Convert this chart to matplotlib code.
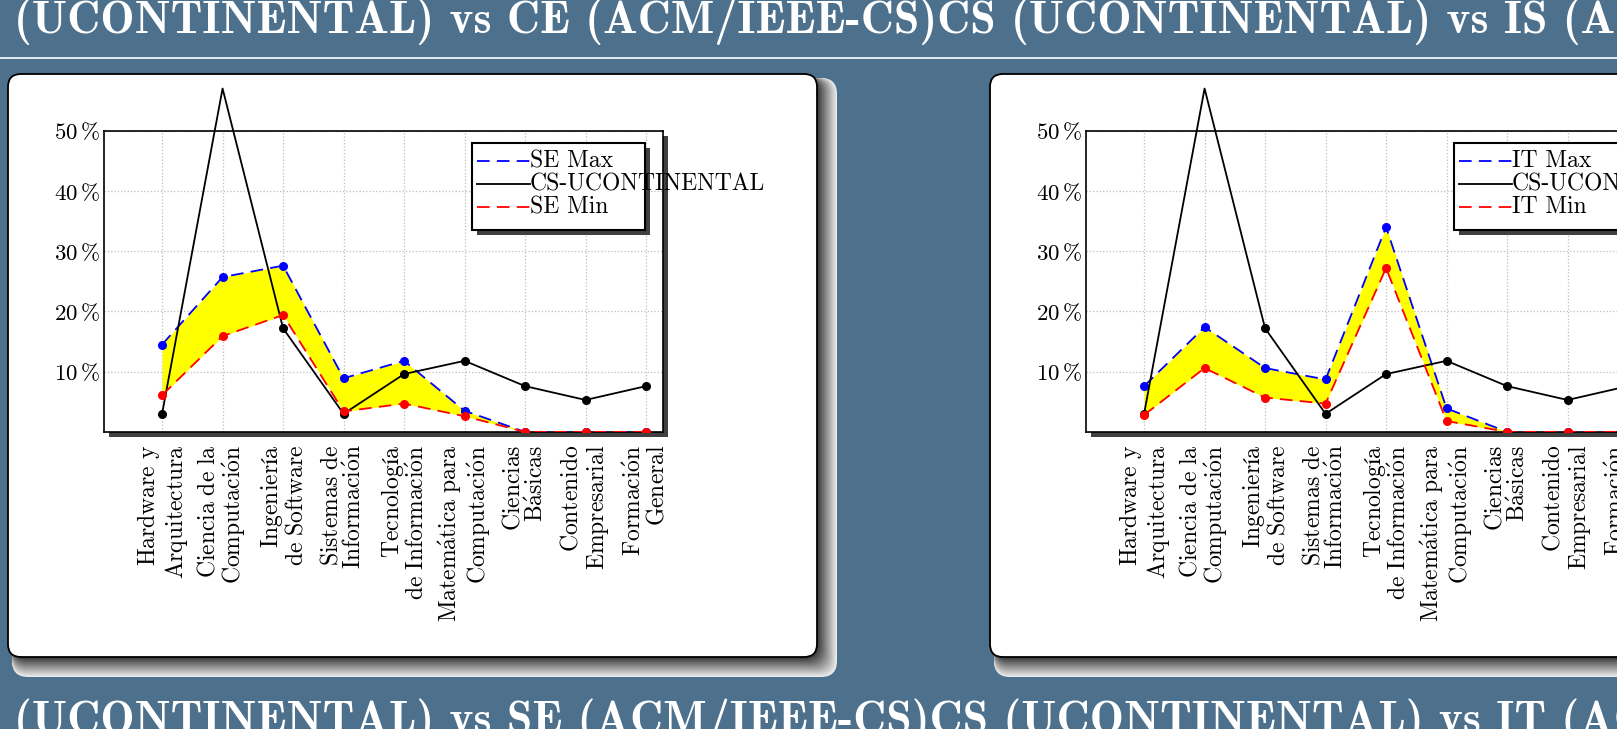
import numpy as np
import matplotlib.pyplot as plt
from matplotlib.patches import FancyBboxPatch, Rectangle
from matplotlib.lines import Line2D
from matplotlib.transforms import Affine2D, ScaledTranslation

plt.rcParams['mathtext.fontset'] = 'cm'
plt.rcParams['font.family'] = ['cmr10', 'DejaVu Serif']
plt.rcParams['axes.unicode_minus'] = False

# data (percent of curriculum per area)
areas = ["Hardware y\nArquitectura", "Ciencia de la\nComputación", "Ingeniería\nde Software",
         "Sistemas de\nInformación", "Tecnología\nde Información", "Matemática para\nComputación",
         "Ciencias\nBásicas", "Contenido\nEmpresarial", "Formación\nGeneral"]
cs_ucontinental = [3.0, 57.0, 17.2, 3.0, 9.6, 11.8, 7.6, 5.3, 7.6]
se_max = [14.5, 25.7, 27.6, 8.9, 11.8, 3.5, 0, 0, 0]
se_min = [6.1, 15.9, 19.4, 3.4, 4.7, 2.6, 0, 0, 0]
it_max = [7.6, 17.4, 10.6, 8.7, 34.0, 3.9, 0, 0, 0]
it_min = [2.8, 10.6, 5.7, 4.7, 27.2, 1.8, 0, 0, 0]
y_ticks = [10, 20, 30, 40, 50]

top_title = "(UCONTINENTAL) vs CE (ACM/IEEE-CS)CS (UCONTINENTAL) vs IS (ACM/IEEE-CS)"
bottom_title = "(UCONTINENTAL) vs SE (ACM/IEEE-CS)CS (UCONTINENTAL) vs IT (ACM/IEEE-CS)"

BG = '#4d708c'
W, H = 1617, 729

fig = plt.figure(figsize=(W / 100, H / 100), dpi=100, facecolor=BG)
# pixel coordinates, origin top-left
px = Affine2D().scale(1 / W, -1 / H).translate(0, 1) + fig.transFigure


def tex(s):
    lines = []
    for line in s.split("\n"):
        t = line.replace(" ", r"\ ")
        t = t.replace("á", r"\acute{a}").replace("ó", r"\acute{o}")
        lines.append(r"$\mathrm{" + t + "}$")
    return "\n".join(lines)


def slide_box(x0, y0, w, h):
    # soft shadow, dark near the box and fading outwards
    for k in range(20, 0, -1):
        g = 0.22 + 0.7 * (k - 1) / 19
        fig.add_artist(FancyBboxPatch((x0 + 4, y0 + 4), w - 4 + k, h - 4 + k,
                                      boxstyle='round,pad=0,rounding_size=16',
                                      fc=(g, g, g), ec='none', transform=px, zorder=-3))
    fig.add_artist(FancyBboxPatch((x0, y0), w, h, boxstyle='round,pad=0,rounding_size=13',
                                  fc='white', ec='black', lw=1.3, transform=px, zorder=-2))


def legend(lx, names):
    ly, lw_, lh = 143, 173, 87
    fig.add_artist(Rectangle((lx + 5, ly + 5), lw_, lh, fc='#404040', ec='none',
                             transform=px, zorder=5))
    fig.add_artist(Rectangle((lx, ly), lw_, lh, fc='white', ec='black', lw=1.5,
                             transform=px, zorder=5.1))
    styles = [('blue', (0, (7, 4))), ('black', '-'), ('red', (0, (7, 4)))]
    for (c, ls), name, yy in zip(styles, names, [161, 184, 207]):
        fig.add_artist(Line2D([lx + 5, lx + 58], [yy, yy], color=c, ls=ls, lw=1.3,
                              transform=px, zorder=5.2))
        fig.text(lx + 58, yy, name, transform=px, fontsize=17, va='center', ha='left',
                 zorder=5.3)


def panel(ax_left, mx, mn, name):
    top, bottom, width = 130.7, 431.9, 559
    fig.add_artist(Rectangle((ax_left + 5, top + 5), width, bottom - top, fc='#404040',
                             ec='none', transform=px, zorder=-1))
    ax = fig.add_axes([ax_left / W, 1 - bottom / H, width / W, (bottom - top) / H])
    x = np.arange(len(areas))
    ax.fill_between(x, mn, mx, color='yellow', lw=0, zorder=1)
    ax.plot(x, mx, color='blue', ls=(0, (7, 4)), lw=1.3, marker='o', ms=5.5, zorder=3)
    ax.plot(x, cs_ucontinental, color='black', lw=1.3, marker='o', ms=5.5, zorder=4,
            markevery=[0, 2, 3, 4, 5, 6, 7, 8], clip_on=False)
    ax.plot(x, mn, color='red', ls=(0, (7, 4)), lw=1.3, marker='o', ms=5.5, zorder=5)
    ax.set_xlim(-0.96, 8.28)
    ax.set_ylim(0, 50)
    ax.set_xticks(x)
    ax.set_xticklabels([tex(a) for a in areas], rotation=90, ha='center', va='top',
                       multialignment='right', fontsize=17, linespacing=1.05)
    shift = ScaledTranslation(4 / 100, 0, fig.dpi_scale_trans)
    for lab in ax.get_xticklabels():
        lab.set_transform(lab.get_transform() + shift)
    ax.set_yticks(y_ticks)
    ax.set_yticklabels([r'$\mathrm{%d\,\%%}$' % v for v in y_ticks], fontsize=16.5)
    ax.tick_params(axis='x', length=0, pad=9)
    ax.tick_params(axis='y', length=0, pad=3)
    ax.grid(True, ls=':', color='#bdbdbd', lw=0.9)
    ax.set_axisbelow(True)
    for sp in ax.spines.values():
        sp.set_color('black')
        sp.set_linewidth(1.2)
    legend(ax_left + 368, [name + " Max", "CS-UCONTINENTAL", name + " Min"])


slide_box(8, 74, 809, 583)
slide_box(990, 74, 809, 583)
panel(104, se_max, se_min, "SE")
panel(1086, it_max, it_min, "IT")

fig.add_artist(Line2D([0, W], [58, 58], color='white', lw=1.2, transform=px))
fig.text(14, 33.3, top_title, transform=px, family='cmb10', fontsize=33, color='white',
         va='baseline', ha='left')
fig.text(14, 733.3, bottom_title, transform=px, family='cmb10', fontsize=33, color='white',
         va='baseline', ha='left')

fig.savefig('out.png', dpi=100, facecolor=BG)
